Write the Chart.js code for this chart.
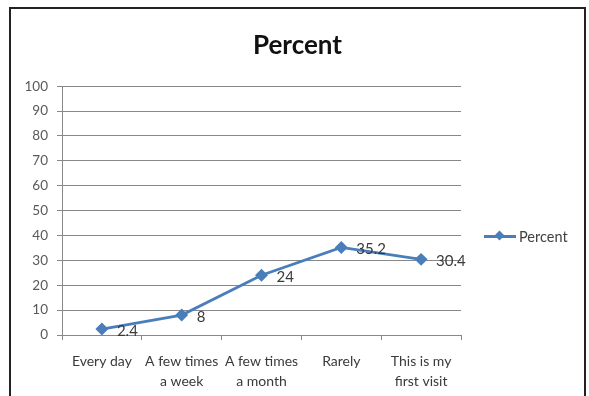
<!DOCTYPE html>
<html>
<head>
<meta charset="utf-8">
<script src="https://cdn.jsdelivr.net/npm/chart.js@4"></script>
<style>
  html, body { margin:0; padding:0; background:#fff; }
  #wrap { position:relative; width:589px; height:396px; overflow:hidden; }
  #frame { position:absolute; left:9px; top:7px; width:573px; height:400px; border:2px solid #222; pointer-events:none; }
  #legend { position:absolute; left:484px; top:228px; height:16px; font-family:Lato, "Liberation Sans", sans-serif; font-size:14.5px; color:#404040; display:flex; align-items:center; }
  #legend .mk { position:relative; width:32px; height:3px; background:#4a7ebb; margin-right:3px; }
  #legend .mk i { position:absolute; left:12px; top:-3px; width:7px; height:7px; background:#4a7ebb; transform:rotate(45deg); }
</style>
</head>
<body>
<div id="wrap">
  <canvas id="c" width="589" height="396"></canvas>
  <div id="frame"></div>
  <div id="legend"><span class="mk"><i></i></span><span id="legendText"></span></div>
</div>
<script>
const categories = [["Every day"], ["A few times", "a week"], ["A few times", "a month"], ["Rarely"], ["This is my", "first visit"]];
const seriesName = "Percent";
const percentValues = [2.4, 8, 24, 35.2, 30.4];
const yTicks = [0, 10, 20, 30, 40, 50, 60, 70, 80, 90, 100];

document.getElementById('legendText').textContent = seriesName;

const FONT = 'Lato, "Liberation Sans", sans-serif';
const LINE = '#4a7ebb';

const dataLabels = {
  id: 'dataLabels',
  afterDatasetsDraw(chart) {
    const ctx = chart.ctx;
    const meta = chart.getDatasetMeta(0);
    ctx.save();
    ctx.font = '15px ' + FONT;
    ctx.fillStyle = '#3a3a3a';
    ctx.textAlign = 'left';
    ctx.textBaseline = 'middle';
    meta.data.forEach((pt, i) => {
      ctx.fillText(String(percentValues[i]), pt.x + 15, pt.y + 2);
    });
    ctx.restore();
  }
};

new Chart(document.getElementById('c'), {
  type: 'line',
  data: {
    labels: categories,
    datasets: [{
      label: seriesName,
      data: percentValues,
      borderColor: LINE,
      backgroundColor: LINE,
      borderWidth: 2.8,
      pointStyle: 'rectRot',
      pointRadius: 4.5,
      pointBackgroundColor: LINE,
      pointBorderColor: LINE,
      tension: 0,
      yAxisID: 'y'
    }]
  },
  options: {
    responsive: false,
    animation: false,
    layout: { padding: { top: 30, right: 0, bottom: 0, left: 6 } },
    plugins: {
      legend: { display: false },
      tooltip: { enabled: false },
      title: {
        display: true,
        text: seriesName,
        color: '#111',
        font: { family: FONT, size: 26, weight: 'bold' },
        padding: { top: 0, bottom: 25 }
      }
    },
    scales: {
      x: {
        type: 'category',
        offset: true,
        grid: { offset: true, drawOnChartArea: false, drawTicks: true, tickLength: 5, color: '#888' },
        border: { color: '#888', width: 1 },
        ticks: { color: '#3a3a3a', font: { family: FONT, size: 14, lineHeight: 1.45 }, padding: 11, maxRotation: 0, autoSkip: false },
        afterFit(scale) { scale.height = 61; }
      },
      y: {
        min: 0, max: 100,
        position: 'left',
        afterBuildTicks(scale) { scale.ticks = yTicks.map(v => ({ value: v })); },
        grid: { color: '#888', lineWidth: 1, tickLength: 5, drawTicks: true },
        border: { color: '#888', width: 1 },
        ticks: { color: '#595959', font: { family: FONT, size: 13.5 }, padding: 9 },
        afterFit(scale) { scale.width = 56; }
      },
      legendSpace: {
        type: 'linear',
        position: 'right',
        display: true,
        grid: { display: false, drawTicks: false },
        border: { display: false },
        ticks: { display: false },
        afterFit(scale) { scale.width = 128; }
      }
    }
  },
  plugins: [dataLabels]
});
</script>
</body>
</html>
